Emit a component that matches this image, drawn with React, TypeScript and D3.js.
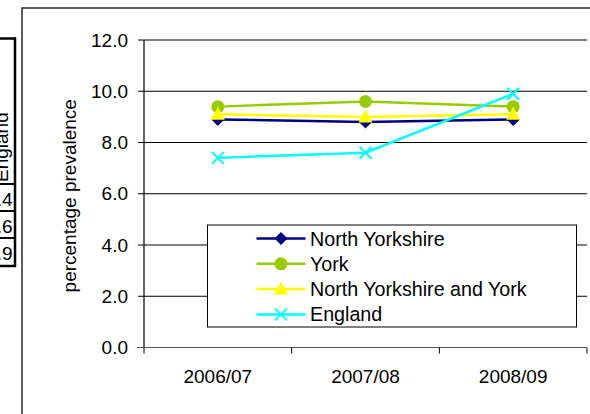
import * as d3 from 'd3';

const categories = ['2006/07', '2007/08', '2008/09'];
const northYorkshire = [8.9, 8.8, 8.9];
const york = [9.4, 9.6, 9.4];
const nyAndYork = [9.1, 9.0, 9.1];
const england = [7.4, 7.6, 9.9];
const yTicks = [0, 2, 4, 6, 8, 10, 12];

const series = [
  { name: 'North Yorkshire', values: northYorkshire, color: '#000080', marker: 'diamond' },
  { name: 'York', values: york, color: '#99CC00', marker: 'circle' },
  { name: 'North Yorkshire and York', values: nyAndYork, color: '#FFFF00', marker: 'triangle' },
  { name: 'England', values: england, color: '#00FFFF', marker: 'x' },
];

const FONT = '"Liberation Sans", Arial, sans-serif';
const FS = 19;

function Marker({ type, x, y, color }: { type: string; x: number; y: number; color: string }) {
  if (type === 'diamond') {
    return <path d={`M${x},${y - 6.5}L${x + 6.5},${y}L${x},${y + 6.5}L${x - 6.5},${y}Z`} fill={color} />;
  }
  if (type === 'circle') {
    return <circle cx={x} cy={y} r={6.5} fill={color} />;
  }
  if (type === 'triangle') {
    return <path d={`M${x},${y - 7.5}L${x + 7},${y + 5.5}L${x - 7},${y + 5.5}Z`} fill={color} />;
  }
  return (
    <path
      d={`M${x - 6},${y - 6}L${x + 6},${y + 6}M${x - 6},${y + 6}L${x + 6},${y - 6}`}
      stroke={color}
      strokeWidth={2}
      fill="none"
    />
  );
}

export default function App() {
  const width = 590;
  const height = 414;
  const left = 144;
  const right = 587;
  const top = 40;
  const bottom = 347.5;

  const x = d3.scaleBand<string>().domain(categories).range([left, right]).padding(0);
  const y = d3.scaleLinear().domain([0, 12]).range([bottom, top]);
  const cx = (c: string) => (x(c) ?? 0) + x.bandwidth() / 2;

  const line = d3
    .line<number>()
    .x((_, i) => cx(categories[i]))
    .y((d) => y(d));

  // legend layout
  const lgX = 207.5;
  const lgY = 225;
  const lgW = 369;
  const lgH = 102;
  const rowY = (i: number) => 238.5 + i * 25.3;

  // clipped data table on the left
  const tableRows = [184, 211, 238, 266];

  return (
    <svg
      width={width}
      height={height}
      style={{ position: 'absolute', left: 0, top: 0, background: '#fff' }}
      fontFamily={FONT}
    >
      <rect x={0} y={0} width={width} height={height} fill="#fff" />

      {/* left table fragment */}
      <g stroke="#000" fill="none">
        <line x1={0} x2={16} y1={38.5} y2={38.5} strokeWidth={2.5} />
        <line x1={15} x2={15} y1={37.5} y2={267} strokeWidth={2.5} />
        {tableRows.map((r, i) => (
          <line key={r} x1={0} x2={16} y1={r} y2={r} strokeWidth={i === tableRows.length - 1 ? 2.5 : 2} />
        ))}
      </g>
      <text transform="translate(8,182) rotate(-90)" fontSize={FS} fill="#000">
        England
      </text>
      {england.map((v, i) => (
        <text key={i} x={12.5} y={tableRows[i] + 22} fontSize={FS} textAnchor="end" fill="#000">
          {v.toFixed(1)}
        </text>
      ))}

      {/* chart frame */}
      <path d={`M22,414V8H590`} stroke="#2a2a2a" strokeWidth={1.5} fill="none" />

      {/* gridlines */}
      {yTicks.slice(1).map((t) => (
        <line key={t} x1={left} x2={right} y1={y(t)} y2={y(t)} stroke="#000" strokeWidth={1} />
      ))}

      {/* y axis */}
      <line x1={left} x2={left} y1={top} y2={bottom} stroke="#000" strokeWidth={1.2} />
      {yTicks.map((t) => (
        <g key={t}>
          <line x1={left - 6} x2={left} y1={y(t)} y2={y(t)} stroke="#000" />
          <text x={128} y={y(t)} dominantBaseline="central" textAnchor="end" fontSize={FS} fill="#000">
            {t.toFixed(1)}
          </text>
        </g>
      ))}
      <text
        transform={`translate(76,${(top + bottom) / 2 + 2}) rotate(-90)`}
        textAnchor="middle"
        fontSize={FS}
        fill="#000"
      >
        percentage prevalence
      </text>

      {/* x axis */}
      <line x1={left - 7} x2={right} y1={bottom} y2={bottom} stroke="#555" strokeWidth={1.2} />
      {[...categories.map((c) => x(c) ?? 0), right].map((tx, i) => (
        <line key={i} x1={tx} x2={tx} y1={bottom} y2={bottom + 6} stroke="#000" />
      ))}
      {categories.map((c) => (
        <text key={c} x={cx(c)} y={383} textAnchor="middle" fontSize={FS} fill="#000">
          {c}
        </text>
      ))}

      {/* series */}
      {series.map((s) => (
        <g key={s.name}>
          <path d={line(s.values) ?? ''} stroke={s.color} strokeWidth={2.5} fill="none" />
          {s.values.map((v, i) => (
            <Marker key={i} type={s.marker} x={cx(categories[i])} y={y(v)} color={s.color} />
          ))}
        </g>
      ))}

      {/* legend */}
      <rect x={lgX} y={lgY} width={lgW} height={lgH} fill="#fff" stroke="#000" strokeWidth={1} />
      {series.map((s, i) => (
        <g key={s.name}>
          <line x1={256.5} x2={305.5} y1={rowY(i)} y2={rowY(i)} stroke={s.color} strokeWidth={2.5} />
          <Marker type={s.marker} x={281} y={rowY(i)} color={s.color} />
          <text x={310} y={rowY(i)} dominantBaseline="central" fontSize={19.7} fill="#000">
            {s.name}
          </text>
        </g>
      ))}
    </svg>
  );
}
